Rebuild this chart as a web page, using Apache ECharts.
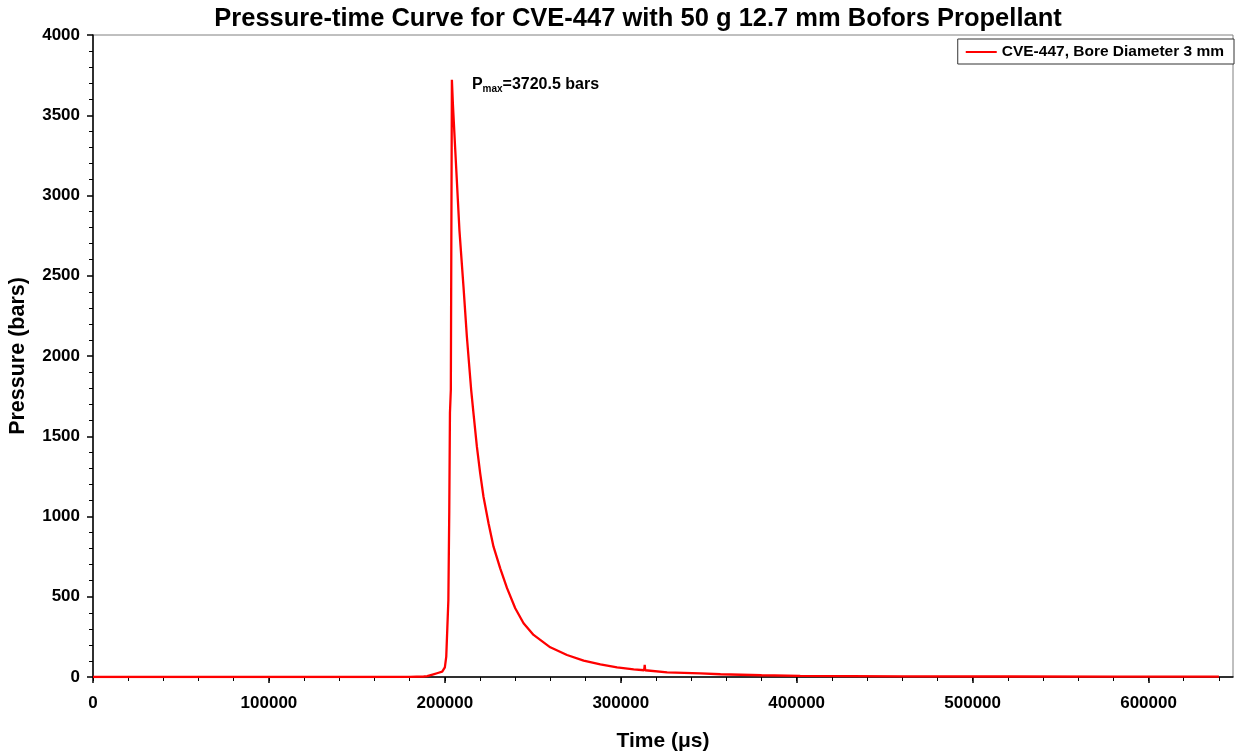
<!DOCTYPE html>
<html>
<head>
<meta charset="utf-8">
<title>Pressure-time Curve</title>
<script src="https://cdn.jsdelivr.net/npm/echarts@6/dist/echarts.min.js"></script>
<style>
  html, body { margin: 0; padding: 0; background: #fff; }
  #chart { width: 1241px; height: 753px; }
</style>
</head>
<body>
<div id="chart"></div>
<script>
// Time samples (µs) and measured pressure (bars)
const timeUs = [
  0, 50000, 100000, 150000, 180000, 188000, 190000, 193000, 196000, 198500,
  200000, 200800, 201400, 202000, 202500, 202900, 203400, 204000,
  204550, 205860, 208310, 210590, 212520, 214970, 216280, 218210, 220090,
  221970, 224820, 227660, 231470, 235290, 240010, 244740, 250430, 259930,
  269440, 278890, 288390, 297890, 307340, 313300, 313600, 313900, 326350,
  345300, 356680, 380000, 402000, 460000, 520000, 580000, 640000
];
const pressureBar = [
  0, 0, 0, 0, 1, 3, 5, 15, 25, 33,
  60, 127, 303, 480, 1022, 1645, 1790, 3720.5,
  3574, 3294, 2780, 2432, 2120, 1788, 1643, 1435, 1269,
  1123, 958, 812, 677, 555, 428, 335, 262, 185,
  137, 102, 79, 60, 48, 42, 75, 42, 29,
  23, 17, 11, 7, 4, 3, 2, 2
];

// Axis ticks
const xMajorTicks = [0, 100000, 200000, 300000, 400000, 500000, 600000];
const xMinorTicks = [];
for (let v = 0; v <= 640000; v += 20000) xMinorTicks.push(v);

const seriesName = 'CVE-447, Bore Diameter 3 mm';
const peakTime = 204000;
const peakPressure = 3720.5;

const FONT = 'Liberation Sans';
const chart = echarts.init(document.getElementById('chart'), null, { renderer: 'canvas' });

const seriesData = timeUs.map((t, i) => [t, pressureBar[i]]);
const plain = v => String(v);

chart.setOption({
  animation: false,
  backgroundColor: '#ffffff',
  textStyle: { fontFamily: FONT },
  title: {
    text: 'Pressure-time Curve for CVE-447 with 50 g 12.7 mm Bofors Propellant',
    left: 633,
    top: 1,
    textAlign: 'center',
    textStyle: { fontFamily: FONT, fontWeight: 'bold', fontSize: 25.5, color: '#000' }
  },
  legend: {
    right: 7,
    top: 39,
    padding: [5, 10, 4, 8],
    borderColor: '#333',
    borderWidth: 1,
    backgroundColor: '#fff',
    icon: 'rect',
    itemWidth: 31,
    itemHeight: 2,
    itemGap: 6,
    textStyle: { fontFamily: FONT, fontWeight: 'bold', fontSize: 15.5, color: '#000' },
    data: [seriesName]
  },
  grid: {
    left: 93, right: 8, top: 35, bottom: 76,
    containLabel: false,
    outerBoundsMode: 'none',
    show: true, borderColor: '#808080', borderWidth: 1
  },
  xAxis: [
    {
      type: 'value', min: 0, max: 648000,
      name: 'Time (\u03bcs)', nameLocation: 'middle', nameGap: 54,
      nameTextStyle: { fontFamily: FONT, fontWeight: 'bold', fontSize: 21, color: '#000' },
      axisLine: { show: true, lineStyle: { color: '#000', width: 1.5 } },
      axisTick: { show: true, length: 6, customValues: xMajorTicks, lineStyle: { color: '#000', width: 1.5 } },
      axisLabel: {
        customValues: xMajorTicks, margin: 18, formatter: plain,
        fontFamily: FONT, fontWeight: 'bold', fontSize: 17, color: '#000'
      },
      splitLine: { show: false }
    },
    {
      type: 'value', min: 0, max: 648000, position: 'bottom',
      axisLine: { show: false },
      axisTick: { show: true, length: 4, customValues: xMinorTicks, lineStyle: { color: '#000', width: 1 } },
      axisLabel: { show: false },
      splitLine: { show: false }
    }
  ],
  yAxis: {
    type: 'value', min: 0, max: 4000, interval: 500,
    name: 'Pressure (bars)', nameLocation: 'middle', nameGap: 64,
    nameTextStyle: { fontFamily: FONT, fontWeight: 'bold', fontSize: 21.5, color: '#000' },
    axisLine: { show: true, lineStyle: { color: '#000', width: 1.5 } },
    axisTick: { show: true, length: 6, lineStyle: { color: '#000', width: 1.5 } },
    minorTick: { show: true, splitNumber: 5, length: 4, lineStyle: { color: '#000', width: 1 } },
    axisLabel: { margin: 13, formatter: plain, fontFamily: FONT, fontWeight: 'bold', fontSize: 17, color: '#000' },
    splitLine: { show: false },
    minorSplitLine: { show: false }
  },
  series: [{
    name: seriesName,
    type: 'line',
    xAxisIndex: 0,
    data: seriesData,
    showSymbol: false,
    symbol: 'none',
    lineStyle: { color: '#ff0000', width: 2.3 },
    itemStyle: { color: '#ff0000' },
    markPoint: {
      symbol: 'circle',
      symbolSize: 0,
      silent: true,
      data: [{
        coord: [peakTime, peakPressure],
        label: {
          show: true,
          position: 'right',
          distance: 20,
          offset: [0, 5],
          formatter: '{p|P}{s|max}{p|=' + peakPressure + ' bars}',
          rich: {
            p: { fontFamily: FONT, fontWeight: 'bold', fontSize: 16, color: '#000' },
            s: { fontFamily: FONT, fontWeight: 'bold', fontSize: 10, color: '#000', verticalAlign: 'bottom', padding: [8, 0, 0, 0] }
          }
        }
      }]
    }
  }]
});
</script>
</body>
</html>
